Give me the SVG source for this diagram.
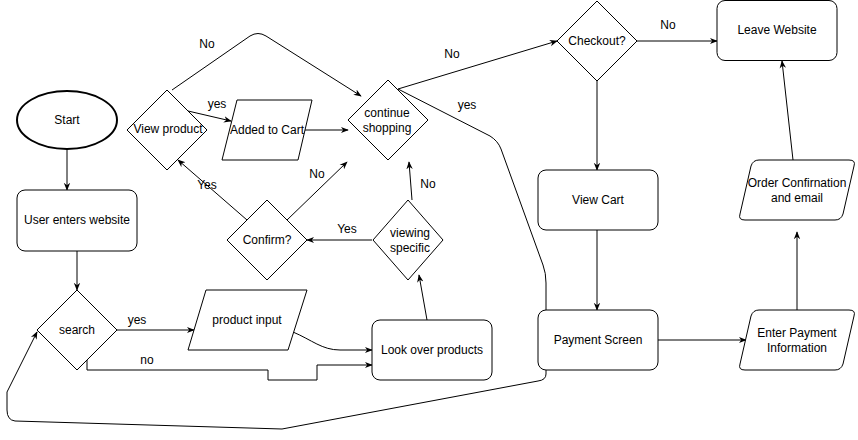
<svg xmlns="http://www.w3.org/2000/svg" width="858" height="440" viewBox="0 0 858 440">
<defs>
<marker id="arr" viewBox="0 0 10 10" refX="9" refY="5" markerWidth="8" markerHeight="8" markerUnits="userSpaceOnUse" orient="auto">
<path d="M0,1 L10,5 L0,9 L3,5 z" fill="#000"/>
</marker>
<style>
.s{fill:#fff;stroke:#000;stroke-width:1}
.e{fill:none;stroke:#000;stroke-width:1}
.a{marker-end:url(#arr)}
text{font-family:"Liberation Sans",Arial,Helvetica,sans-serif;font-size:12px;fill:#000;text-anchor:middle;dominant-baseline:central}
</style>
</defs>
<rect width="858" height="440" fill="#fff"/>

<g id="connectors">
<path class="e a" d="M67,149 L67,190"/>
<path class="e a" d="M77,251 L77,290"/>
<path class="e a" d="M117,330 L194,330"/>
<path class="e a" d="M293,332 C312,340 322,350 340,350 L372,350"/>
<path class="e a" d="M87,360 L87,370 L268,370 L268,380 L317,380 L317,365 L372,365"/>
<path class="e a" d="M427,320 L419,275"/>
<path class="e a" d="M372,240 L307,240"/>
<path class="e a" d="M247,220 L178,160"/>
<path class="e a" d="M287,220 L347,162"/>
<path class="e a" d="M412,200 L409,162"/>
<path class="e a" d="M188,111 L231,121"/>
<path class="e a" d="M305,130 L348,130"/>
<path class="e a" d="M172,90 L250,36 Q258,31 266,36 L361,96"/>
<path class="e a" d="M398,89 L557,41"/>
<path class="e" d="M398,89 L490,136 Q498,141 501,149 L543,265 Q546,273 546,283 L546,310"/>
<path class="e a" d="M546,370 L546,374 Q546,380 538,381 L282,429 L15,421 Q7,420 7,410 L7,392 L37,332"/>
<path class="e a" d="M637,41 L717,41"/>
<path class="e a" d="M597,81 L597,170"/>
<path class="e a" d="M597,230 L597,310"/>
<path class="e a" d="M658,340 L746,340"/>
<path class="e a" d="M797,310 L797,232"/>
<path class="e a" d="M793,160 L782,61"/>
<text x="137" y="320">yes</text>
<text x="147" y="360">no</text>
<text x="347" y="229">Yes</text>
<text x="207" y="185">Yes</text>
<text x="317" y="174">No</text>
<text x="428" y="184">No</text>
<text x="217" y="104">yes</text>
<text x="207" y="44">No</text>
<text x="452" y="54">No</text>
<text x="467" y="105">yes</text>
<text x="668" y="25">No</text>
</g>

<g id="start">
<ellipse cx="67" cy="120" rx="50" ry="29" fill="#fff" stroke="#000" stroke-width="2"/>
<text x="67" y="120">Start</text>
</g>
<g id="user-enters">
<rect class="s" x="17" y="190" width="120" height="61" rx="8"/>
<text x="77" y="220">User enters website</text>
</g>
<g id="search">
<polygon class="s" points="77,290 117,330 77,370 37,330"/>
<text x="77" y="330">search</text>
</g>
<g id="product-input">
<polygon class="s" points="206,290 307,290 288,350 188,350"/>
<text x="247" y="320">product input</text>
</g>
<g id="look-over">
<rect class="s" x="372" y="320" width="120" height="60" rx="8"/>
<text x="432" y="350">Look over products</text>
</g>
<g id="viewing-specific">
<polygon class="s" points="408,200 443,240 408,280 373,240"/>
<text x="410" y="233">viewing</text>
<text x="410" y="248">specific</text>
</g>
<g id="confirm">
<polygon class="s" points="267,200 307,240 267,280 227,240"/>
<text x="267" y="240">Confirm?</text>
</g>
<g id="view-product">
<polygon class="s" points="167,90 207,130 167,170 127,130"/>
<text x="168" y="129">View product</text>
</g>
<g id="added-to-cart">
<polygon class="s" points="237,100 312,100 298,160 222,160"/>
<text x="267" y="130">Added to Cart</text>
</g>
<g id="continue-shopping">
<polygon class="s" points="388,80 428,120 388,160 348,120"/>
<text x="387" y="113">continue</text>
<text x="387" y="128">shopping</text>
</g>
<g id="checkout">
<polygon class="s" points="597,1 637,41 597,81 557,41"/>
<text x="597" y="41">Checkout?</text>
</g>
<g id="leave-website">
<rect class="s" x="717" y="0.5" width="120" height="60" rx="8"/>
<text x="777" y="30">Leave Website</text>
</g>
<g id="view-cart">
<rect class="s" x="538" y="170" width="120" height="60" rx="8"/>
<text x="598" y="200">View Cart</text>
</g>
<g id="payment-screen">
<rect class="s" x="538" y="310" width="120" height="60" rx="8"/>
<text x="598" y="340">Payment Screen</text>
</g>
<g id="enter-payment">
<path class="s" d="M759,310 L849,310 Q856,310 854,316 L843,364 Q841,370 835,370 L745,370 Q738,370 740,364 L751,316 Q753,310 759,310 z"/>
<text x="797" y="333">Enter Payment</text>
<text x="797" y="348">Information</text>
</g>
<g id="order-confirmation">
<path class="s" d="M759,160 L849,160 Q856,160 854,166 L843,214 Q841,220 835,220 L745,220 Q738,220 740,214 L751,166 Q753,160 759,160 z"/>
<text x="797" y="183">Order Confirnation</text>
<text x="797" y="198">and email</text>
</g>
</svg>
